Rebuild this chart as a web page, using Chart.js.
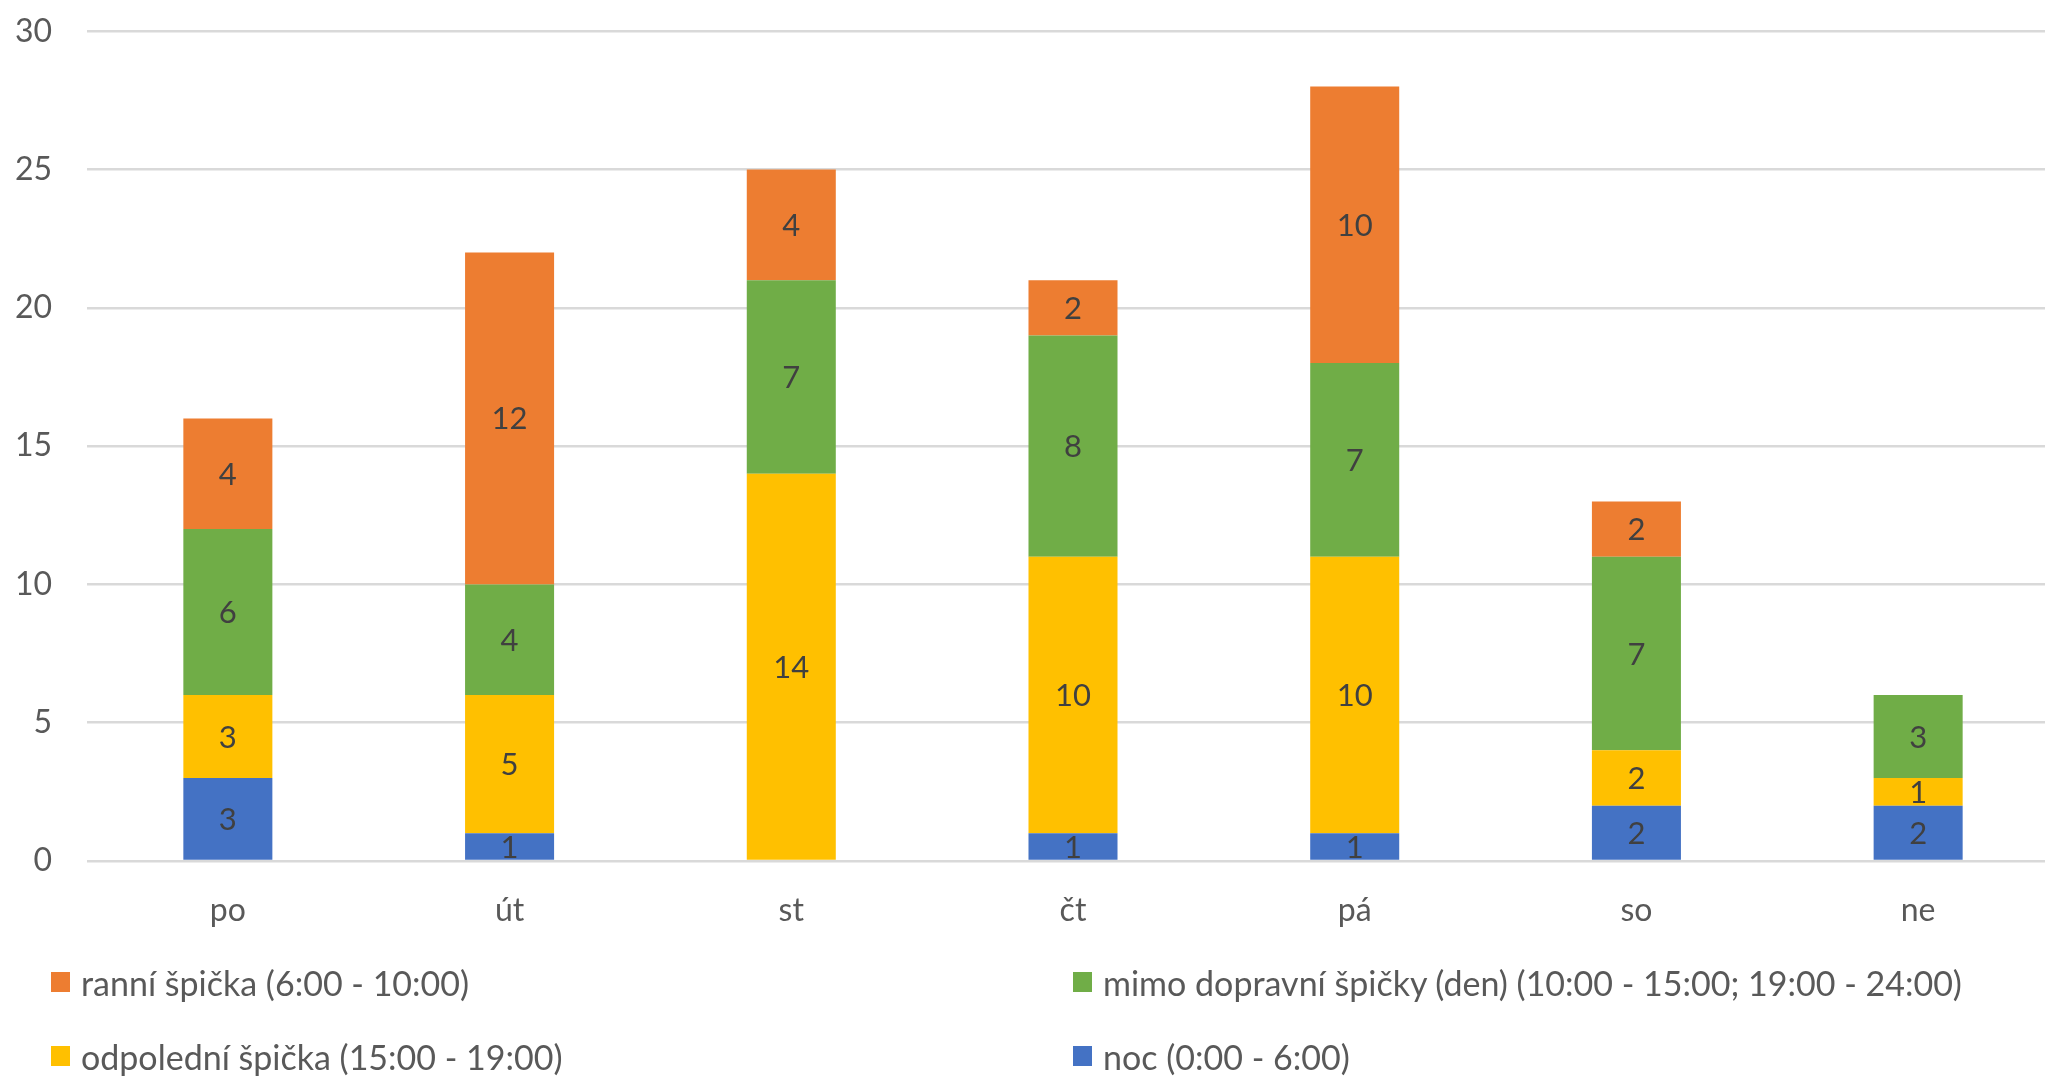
<!DOCTYPE html>
<html>
<head>
<meta charset="utf-8">
<script src="https://cdn.jsdelivr.net/npm/chart.js@4/dist/chart.umd.min.js"></script>
<style>
  html, body { margin: 0; padding: 0; background: #fff; overflow: hidden; width: 2045px; height: 1077px; }
  #plot { position: absolute; left: 0; top: -23px; }
  #legend { position: absolute; left: 0; top: 0; width: 2045px; height: 1077px; font-family: Lato, "Open Sans", sans-serif; font-size: 34px; color: #595959; }
  .item { position: absolute; height: 40px; display: flex; align-items: center; white-space: nowrap; }
  .swatch { width: 19px; height: 20px; margin-right: 11px; flex: none; }
</style>
</head>
<body>
<canvas id="plot" width="2059" height="964"></canvas>
<div id="legend"></div>
<script>
// Weekday categories and counts per time-of-day band
const days = ['po', 'út', 'st', 'čt', 'pá', 'so', 'ne'];
const noc = [3, 1, 0, 1, 1, 2, 2];
const odpoledni = [3, 5, 14, 10, 10, 2, 1];
const mimo = [6, 4, 7, 8, 7, 7, 3];
const ranni = [4, 12, 4, 2, 10, 2, 0];

const seriesNames = [
  'noc (0:00 - 6:00)',
  'odpolední špička (15:00 - 19:00)',
  'mimo dopravní špičky (den) (10:00 - 15:00; 19:00 - 24:00)',
  'ranní špička (6:00 - 10:00)'
];
const yMin = 0, yMax = 30, yStep = 5;

const FONT = 'Lato, "Open Sans", sans-serif';
const colors = ['#4472C4', '#FFC000', '#70AD47', '#ED7D31'];

// Value labels centred inside each stacked segment
const segmentLabels = {
  id: 'segmentLabels',
  afterDatasetsDraw(chart) {
    const ctx = chart.ctx;
    ctx.save();
    ctx.font = '31px ' + FONT;
    ctx.fillStyle = '#404040';
    ctx.textAlign = 'center';
    ctx.textBaseline = 'middle';
    chart.data.datasets.forEach((ds, di) => {
      const meta = chart.getDatasetMeta(di);
      meta.data.forEach((bar, i) => {
        const v = ds.data[i];
        if (!v) return;
        const cy = (bar.y + bar.base) / 2;
        ctx.fillText(String(v), bar.x, cy + 1);
      });
    });
    ctx.restore();
  }
};

const seriesData = [noc, odpoledni, mimo, ranni];

const chart = new Chart(document.getElementById('plot'), {
  type: 'bar',
  data: {
    labels: days,
    datasets: seriesData.map((d, i) => ({
      label: seriesNames[i],
      data: d,
      backgroundColor: colors[i],
      borderWidth: 0,
      categoryPercentage: 1,
      barPercentage: 0.316
    }))
  },
  options: {
    responsive: false,
    animation: false,
    devicePixelRatio: 1,
    layout: { padding: { top: 6, right: 0, bottom: 0, left: 0 } },
    plugins: {
      legend: { display: false },
      tooltip: { enabled: false }
    },
    scales: {
      x: {
        stacked: true,
        grid: { display: false, drawTicks: false },
        border: { display: false },
        ticks: { color: '#595959', font: { family: FONT, size: 32 }, padding: 30, maxRotation: 0 },
        afterFit(scale) { scale.height = 80; }
      },
      y: {
        stacked: true,
        min: yMin,
        max: yMax,
        grid: { color: '#D9D9D9', lineWidth: 2.6, drawTicks: false },
        border: { display: false },
        ticks: { stepSize: yStep, color: '#595959', font: { family: FONT, size: 32 }, padding: 35 },
        afterFit(scale) { scale.width = 87; }
      }
    }
  },
  plugins: [segmentLabels]
});

// Two-column legend, listed top row first
const legendOrder = [3, 2, 1, 0];
const legendSlots = [
  { x: 51, y: 982 }, { x: 1073, y: 982 },
  { x: 51, y: 1056 }, { x: 1073, y: 1056 }
];
const legendEl = document.getElementById('legend');
legendOrder.forEach((di, k) => {
  const ds = chart.data.datasets[di];
  const item = document.createElement('div');
  item.className = 'item';
  item.style.left = legendSlots[k].x + 'px';
  item.style.top = (legendSlots[k].y - 20) + 'px';
  const sw = document.createElement('span');
  sw.className = 'swatch';
  sw.style.background = ds.backgroundColor;
  const tx = document.createElement('span');
  tx.textContent = ds.label;
  item.appendChild(sw);
  item.appendChild(tx);
  legendEl.appendChild(item);
});
</script>
</body>
</html>
